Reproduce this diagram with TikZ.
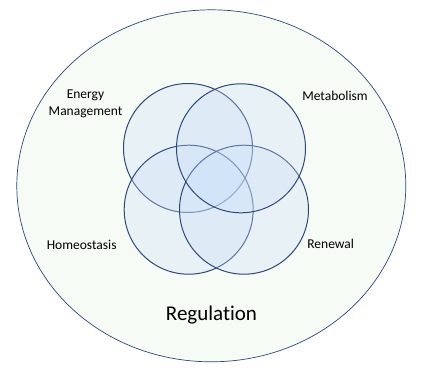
\documentclass[tikz,border=0pt]{standalone}
\usepackage{fontspec}
\setmainfont{Carlito}[RawFeature=-liga]
\usetikzlibrary{shapes.geometric}
\definecolor{bgfill}{RGB}{246,251,245}
\definecolor{navy}{RGB}{47,72,120}
\definecolor{cfill}{RGB}{200,222,250}
\begin{document}
\begin{tikzpicture}[x=1bp,y=-1bp,
  outer/.style={ellipse, draw=navy, line width=0.7bp, fill=bgfill, minimum width=389bp, minimum height=352bp, inner sep=0pt, outer sep=0pt},
  venn/.style={circle, draw=navy, line width=1bp, fill=cfill, fill opacity=0.3, minimum size=129bp, inner sep=0pt, outer sep=0pt},
  lbl/.style={font=\fontsize{13.5bp}{17bp}\selectfont, text=black, align=center, inner sep=0pt},
  big/.style={font=\fontsize{21bp}{25bp}\selectfont, text=black, inner sep=0pt}]
\useasboundingbox (0,0) rectangle (421,370);
\fill[white] (0,0) rectangle (421,370);
\node[outer] (reg) at (211.3,185.8) {};
\node[venn] (energy) at (188,148) {};
\node[venn] (homeo) at (188.7,209.7) {};
\node[venn] (renew) at (244,209.7) {};
\node[venn] (metab) at (241,148.3) {};
\node[lbl] (tEnergy) at (85.5,104) {Energy\\Management};
\node[lbl] (tMetab) at (335,95.7) {Metabolism};
\node[lbl] (tHomeo) at (81.7,244.7) {Homeostasis};
\node[lbl] (tRenew) at (330.7,243.7) {Renewal};
\node[big] (tReg) at (211.5,315) {Regulation};
\end{tikzpicture}
\end{document}
